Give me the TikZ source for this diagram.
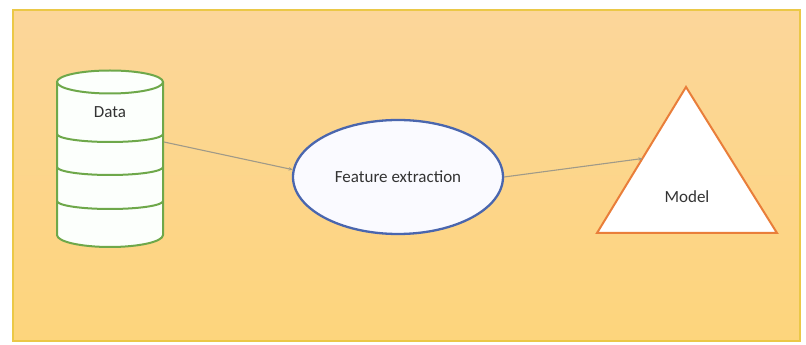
\documentclass[tikz,border=0pt]{standalone}
\usepackage{fontspec}
\setmainfont{Carlito}
\usetikzlibrary{shapes.geometric,arrows.meta,calc}

\definecolor{panelTop}{HTML}{FCD69A}
\definecolor{panelBot}{HTML}{FDD57C}
\definecolor{panelEdge}{HTML}{EBC847}
\definecolor{dbGreen}{HTML}{6EA84A}
\definecolor{feBlue}{HTML}{4A66AE}
\definecolor{mdOrange}{HTML}{E97E3A}
\definecolor{linkGrey}{HTML}{A09A88}
\definecolor{txtGrey}{HTML}{333333}

\tikzset{
  label text/.style={font=\fontsize{17}{20}\selectfont, text=txtGrey},
  link/.style={draw=linkGrey, line width=1.1pt, -{Stealth[length=4pt,width=3.5pt]}},
  dbline/.style={draw=dbGreen, line width=2pt},
}

\begin{document}
\begin{tikzpicture}[x=1pt,y=1pt]
  \useasboundingbox (0,0) rectangle (806,345);

  % panel behind the pipeline
  \fill[top color=panelTop, bottom color=panelBot] (13,4) rectangle (800,335);
  \draw[panelEdge, line width=2pt] (13,4) rectangle (800,335);

  % data store: stacked cylinder
  \fill[white!99!green] (57,263) -- (57,110) arc[start angle=180, end angle=360, x radius=53, y radius=12]
        -- (163,263) arc[start angle=0, end angle=180, x radius=53, y radius=11.5] -- cycle;
  \draw[dbline] (57,263) -- (57,110) arc[start angle=180, end angle=360, x radius=53, y radius=12] -- (163,263);
  \draw[dbline] (110,263) ellipse[x radius=53, y radius=11.5];
  \foreach \yy in {211,178,144}
    \draw[dbline] (57,\yy) arc[start angle=180, end angle=360, x radius=53, y radius=8];
  \node[label text] (data) at (110,233) {Data};
  \coordinate (dataport) at (164,203);

  % feature extraction step
  \node[ellipse, draw=feBlue, line width=2.3pt, fill=white!98!blue,
        minimum width=210pt, minimum height=114pt, inner sep=0pt, label text] (fe) at (398,168) {Feature extraction};

  % model
  \coordinate (mtop) at (686,258);
  \coordinate (mleft) at (597,112);
  \coordinate (mright) at (777,112);
  \draw[mdOrange, line width=2pt, fill=white, line join=miter] (mleft) -- (mtop) -- (mright) -- cycle;
  \node[label text] (model) at (687,148) {Model};
  \coordinate (modelport) at ($(mleft)!0.51!(mtop)$);

  % connectors
  \draw[link] (dataport) -- (fe.176);
  \draw[link] (fe.east) -- (modelport);
\end{tikzpicture}
\end{document}
